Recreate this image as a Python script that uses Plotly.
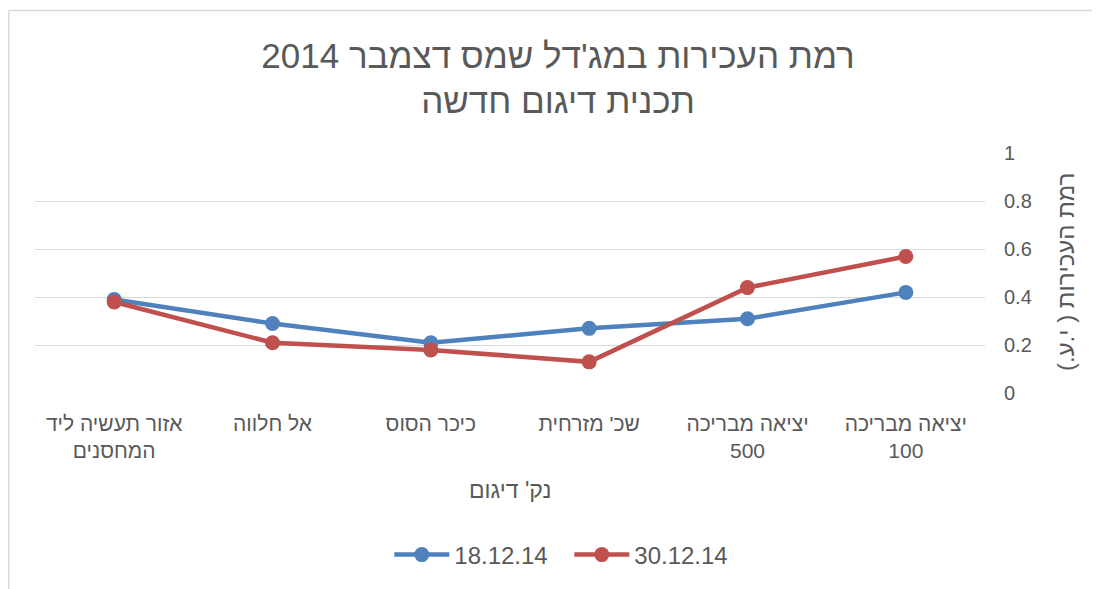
import plotly.graph_objects as go

# sampling points, listed right-to-left as in the original sheet
points = ["יציאה מבריכה<br>100", "יציאה מבריכה<br>500", "שכ' מזרחית",
          "כיכר הסוס", "אל חלווה", "אזור תעשיה ליד<br>המחסנים"]
turbidity_1812 = [0.42, 0.31, 0.27, 0.21, 0.29, 0.39]
turbidity_3012 = [0.57, 0.44, 0.13, 0.18, 0.21, 0.38]
y_ticks = [0, 0.2, 0.4, 0.6, 0.8, 1]

FONT = "Liberation Sans, Arial, sans-serif"
GREY = "#595959"

fig = go.Figure()
fig.add_trace(go.Scatter(x=points, y=turbidity_1812, name="18.12.14", mode="lines+markers",
                         line=dict(color="#4f81bd", width=4.5), marker=dict(size=15)))
fig.add_trace(go.Scatter(x=points, y=turbidity_3012, name="30.12.14", mode="lines+markers",
                         line=dict(color="#c0504d", width=4.5), marker=dict(size=15)))

# the page body adds an 8px offset, so the figure is 8px smaller than the window
fig.update_layout(
    width=1092, height=581, autosize=False,
    margin=dict(l=27, r=115, t=145, b=196, autoexpand=False),
    paper_bgcolor="white", plot_bgcolor="white",
    font=dict(family=FONT, color=GREY, size=20),
    title=dict(text="רמת העכירות במג'דל שמס דצמבר 2014<br>תכנית דיגום חדשה",
               x=0.5037, xanchor="center", y=0.897, yanchor="top",
               font=dict(size=35, color=GREY)),
    showlegend=True,
    legend=dict(orientation="h", xref="container", yref="container",
                x=0.514, xanchor="center", y=0.0585, yanchor="middle",
                itemwidth=55, entrywidth=110,
                font=dict(size=24), bgcolor="rgba(0,0,0,0)", traceorder="normal"),
    xaxis=dict(range=[5.5, -0.5], showgrid=False, showline=False, zeroline=False,
               automargin=False, ticks="", ticklabelstandoff=16, tickfont=dict(size=21)),
    yaxis=dict(range=[0, 1.002], tickvals=y_ticks, ticktext=[str(v) for v in y_ticks],
               side="right", showgrid=True, gridcolor="#d9d9d9", gridwidth=1,
               automargin=False, zeroline=False, showline=False, ticks="",
               ticklabelstandoff=18, tickfont=dict(size=20)),
)

# chart frame edges (top and left border of the embedded chart)
fig.add_shape(type="line", xref="paper", yref="paper", x0=-0.0276, x1=1.2, y0=1.594, y1=1.594,
              line=dict(color="#d9d9d9", width=1.5))
fig.add_shape(type="line", xref="paper", yref="paper", x0=-0.0276, x1=-0.0276, y0=-1.0, y1=1.594,
              line=dict(color="#d9d9d9", width=1.5))

fig.add_annotation(text="נק' דיגום", xref="paper", yref="paper", x=0.5, y=-0.405,
                   yanchor="middle", showarrow=False, font=dict(size=23, color=GREY))
fig.add_annotation(text="רמת העכירות ( י.ע.)", xref="paper", yref="paper", x=1.0842, y=0.504,
                   xanchor="center", yanchor="middle", textangle=-90, showarrow=False,
                   font=dict(size=24, color=GREY))

fig.write_html("out.html")
